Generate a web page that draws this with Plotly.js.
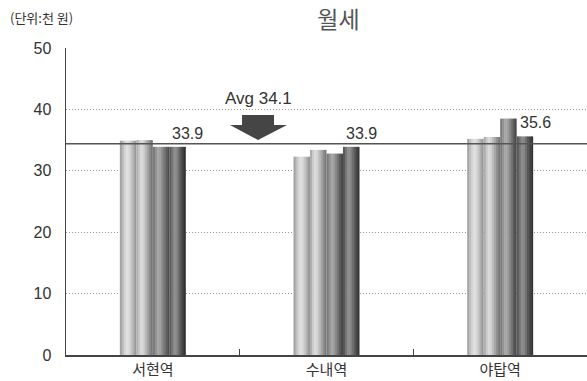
<!DOCTYPE html>
<html>
<head>
<meta charset="utf-8">
<script src="https://cdn.plot.ly/plotly-3.0.1.min.js"></script>
<style>html,body{margin:0;padding:0;background:#fff;}#chart{width:587px;height:381px;}</style>
</head>
<body>
<div id="chart"></div>
<script>
// ---- data ----
const categories = ['서현역', '수내역', '야탑역'];
const series1 = [34.9, 32.3, 35.2];
const series2 = [35.0, 33.4, 35.5];
const series3 = [33.9, 32.8, 38.5];
const series4 = [33.9, 33.9, 35.6];
const labelValues = [33.9, 33.9, 35.6];
const avgLineLevel = 34.4;
const avgLabel = 'Avg 34.1';
const yTickVals = [0, 10, 20, 30, 40, 50];
const yTickText = ['0', '10', '20', '30', '40', '50'];
const chartTitle = '월세';
const unitText = '(단위:천 원)';

// ---- style ----
const W = 587, H = 381;
const M = {l: 66, r: 0, t: 48, b: 26};
const plotW = W - M.l - M.r, plotH = H - M.t - M.b;
const px = p => (p - M.l) / plotW;
const py = q => (H - M.b - q) / plotH;

const gradients = [
  ['#a4a4a4','#bebebe','#d4d4d4','#e0e0e0','#d8d8d8','#c6c6c6','#b0b0b0','#989898'],
  ['#aeaeae','#cacaca','#dadada','#d2d2d2','#bcbcbc','#a6a6a6','#8e8e8e','#787878'],
  ['#7a7a7a','#929292','#a6a6a6','#a0a0a0','#8a8a8a','#747474','#5e5e5e','#4a4a4a'],
  ['#585858','#747474','#8c8c8c','#888888','#707070','#585858','#444444','#333333']
];
const allSeries = [series1, series2, series3, series4];
const barW = 0.095;
const groupStart = -2 * barW;
const N = 8;

const traces = [];
allSeries.forEach((vals, s) => {
  for (let k = 0; k < N; k++) {
    const step = barW / N;
    traces.push({
      type: 'bar',
      x: categories,
      y: vals,
      width: k < N - 1 ? step * 1.2 : step,
      offset: groupStart + s * barW + k * step,
      marker: {color: gradients[s][k], line: {width: 0}},
      hoverinfo: 'skip',
      showlegend: false
    });
  }
});

const fontLat = 'Liberation Sans, Arial, sans-serif';
const fontKr = 'Noto Sans CJK KR, sans-serif';

const catW = plotW / categories.length;
const annotations = [
  {xref: 'paper', yref: 'paper', x: px(8), y: py(18), xanchor: 'left', yanchor: 'middle',
   text: unitText, showarrow: false, font: {family: fontKr, size: 13, color: '#333'}},
  {xref: 'paper', yref: 'paper', x: px(258), y: py(99), xanchor: 'center', yanchor: 'middle',
   text: avgLabel, showarrow: false, font: {family: fontLat, size: 17, color: '#333'}}
];
categories.forEach((c, i) => {
  annotations.push({
    x: c, y: labelValues[i], xref: 'x', yref: 'y',
    text: labelValues[i].toFixed(1), showarrow: false,
    xanchor: 'left', yanchor: 'bottom', yshift: 3,
    xshift: (groupStart + 3 * barW) * catW + 1,
    font: {family: fontLat, size: 16, color: '#333'}
  });
});

const arrowPath =
  'M' + px(242) + ',' + py(115) +
  ' L' + px(274) + ',' + py(115) +
  ' L' + px(274) + ',' + py(125) +
  ' L' + px(287) + ',' + py(125) +
  ' L' + px(258) + ',' + py(140) +
  ' L' + px(230) + ',' + py(125) +
  ' L' + px(242) + ',' + py(125) + ' Z';

const shapes = [
  {type: 'line', xref: 'paper', yref: 'y', x0: 0, x1: 1, y0: avgLineLevel, y1: avgLineLevel,
   line: {color: '#555', width: 1.6}, layer: 'above'},
  {type: 'path', xref: 'paper', yref: 'paper', path: arrowPath,
   fillcolor: '#454545', line: {width: 0}, layer: 'above'}
];

const layout = {
  width: W, height: H,
  margin: M,
  paper_bgcolor: '#fff', plot_bgcolor: '#fff',
  barmode: 'overlay',
  title: {text: chartTitle, x: 307 / W, xanchor: 'center', xref: 'paper',
          y: 1 - 20 / H, yanchor: 'middle', yref: 'container',
          font: {family: fontKr, size: 23, color: '#555'}},
  xaxis: {
    type: 'category', range: [-0.5, 2.5], fixedrange: true,
    showline: true, linecolor: '#444', linewidth: 1.5,
    ticks: 'inside', tickson: 'boundaries', ticklen: 6, tickcolor: '#444', tickwidth: 1,
    showgrid: false, zeroline: false,
    tickfont: {family: fontKr, size: 15, color: '#333'}
  },
  yaxis: {
    range: [0, 50], tickvals: yTickVals, ticktext: yTickText, fixedrange: true,
    showline: true, linecolor: '#444', linewidth: 1.5,
    showgrid: true, gridcolor: '#999', griddash: '1px,2px', gridwidth: 1,
    zeroline: false, ticks: '', ticklabelstandoff: 10,
    tickfont: {family: fontLat, size: 16, color: '#333'}
  },
  annotations: annotations,
  shapes: shapes
};

Plotly.newPlot('chart', traces, layout, {displayModeBar: false, staticPlot: true});
</script>
</body>
</html>
